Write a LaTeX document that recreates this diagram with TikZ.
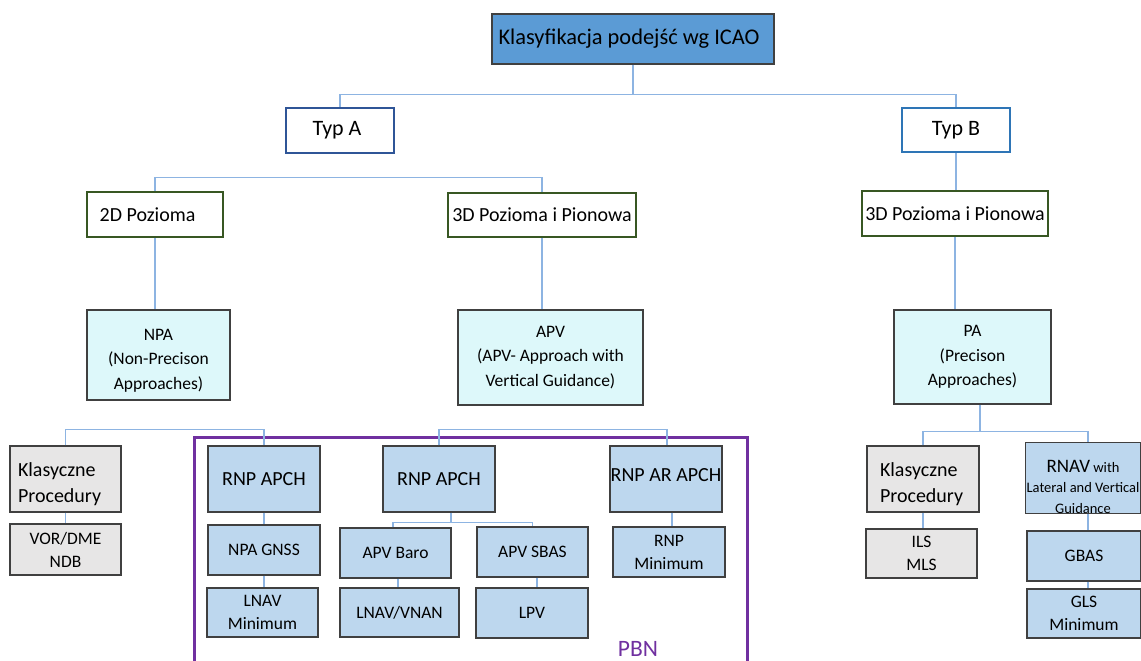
\documentclass[tikz,border=0pt]{standalone}
\usepackage{fontspec}
\setmainfont{Carlito}
\definecolor{topfill}{HTML}{5B9BD5}
\definecolor{cyanfill}{HTML}{DDF8FA}
\definecolor{bluefill}{HTML}{BDD7EE}
\definecolor{greyfill}{HTML}{E7E6E6}
\definecolor{boxline}{HTML}{404040}
\definecolor{typAline}{HTML}{2F5597}
\definecolor{typBline}{HTML}{2E75B6}
\definecolor{greenline}{HTML}{385723}
\definecolor{pbn}{HTML}{7030A0}
\definecolor{connc}{HTML}{8DB4E2}
\begin{document}
\begin{tikzpicture}[x=1pt,y=-1pt,
  box/.style={draw=boxline,line width=1.3pt,inner sep=0pt,align=center,text=black},
  big/.style={font=\fontsize{20}{26}\selectfont},
  small/.style={font=\fontsize{17.5}{23}\selectfont},
  topbox/.style={box,fill=topfill,font=\fontsize{22.4}{26}\selectfont},
  typbox/.style={box,fill=white,font=\fontsize{22}{26}\selectfont},
  lvlbox/.style={box,fill=white,draw=greenline,big},
  cyanbox/.style={box,fill=cyanfill,font=\fontsize{17.5}{24.5}\selectfont},
  bluebox/.style={box,fill=bluefill},
  greybox/.style={box,fill=greyfill},
  conn/.style={draw=connc,line width=1.1pt}
]
\useasboundingbox (0,0) rectangle (1141,661);
\fill[white] (0,0) rectangle (1141,661);

% level 0
\node[topbox,minimum width=282,minimum height=50] (top) at (633,39) {Klasyfikacja podejść wg ICAO\hspace{8pt}};
% level 1
\node[typbox,draw=typAline,line width=2.4pt,minimum width=108,minimum height=45] (typA) at (340,130.5) {Typ A\hspace{6pt}};
\node[typbox,draw=typBline,line width=2pt,minimum width=108,minimum height=44] (typB) at (956,130) {Typ B};
% level 2
\node[lvlbox,line width=2.4pt,minimum width=136,minimum height=45] (d2) at (155,214.5) {2D Pozioma\hspace{15pt}};
\node[lvlbox,line width=1.5pt,minimum width=188,minimum height=44] (d3A) at (542,215) {3D Pozioma i Pionowa};
\node[lvlbox,line width=1.5pt,minimum width=186,minimum height=45] (d3B) at (955,213.5) {3D Pozioma i Pionowa};
% level 3
\node[cyanbox,minimum width=143,minimum height=90] (npa) at (158.5,355) {\rule{0pt}{22pt}NPA\\(Non-Precison\\Approaches)};
\node[cyanbox,minimum width=185,minimum height=95] (apv) at (550.5,357.5) {APV\\(APV- Approach with\\Vertical Guidance)};
\node[cyanbox,minimum width=157,minimum height=94] (pa) at (972.5,357) {PA\\(Precison\\Approaches)};

% PBN frame
\draw[pbn,line width=3pt] (194,675) -- (194,437) -- (747,437) -- (747,675);
\node[text=pbn,font=\fontsize{23.5}{26}\selectfont,inner sep=0pt] (pbnlbl) at (638,649) {PBN};

% level 4
\node[greybox,big,minimum width=111,minimum height=66,text width=95,inner xsep=8pt,align=left] (klasL) at (65.5,479) {\rule{0pt}{24pt}Klasyczne\\Procedury};
\node[greybox,small,minimum width=111,minimum height=51] (vor) at (65.5,549.5) {VOR/DME\\NDB};

\node[bluebox,big,minimum width=112,minimum height=66] (rnp1) at (264,479) {RNP APCH};
\node[bluebox,small,minimum width=112,minimum height=50] (npag) at (264,550) {NPA GNSS};
\node[bluebox,small,minimum width=111,minimum height=49] (lnav) at (262.5,612.5) {LNAV\\Minimum};

\node[bluebox,big,minimum width=112,minimum height=66] (rnp2) at (439,479) {RNP APCH};
\node[bluebox,small,minimum width=111,minimum height=50] (baro) at (395.5,553) {APV Baro};
\node[bluebox,small,minimum width=111,minimum height=50] (sbas) at (532.5,552) {APV SBAS};
\node[bluebox,small,minimum width=119,minimum height=49] (vnan) at (399.5,612.5) {LNAV/VNAN};
\node[bluebox,small,minimum width=112,minimum height=50] (lpv) at (532,613) {LPV};

\node[bluebox,big,minimum width=112,minimum height=66] (rnpar) at (666,479) {\raisebox{7pt}{RNP AR APCH}};
\node[bluebox,small,minimum width=112,minimum height=50] (rnpmin) at (669,552) {RNP\\Minimum};

\node[greybox,big,minimum width=112,minimum height=66,text width=96,inner xsep=8pt,align=left] (klasR) at (923,479) {\rule{0pt}{24pt}\hspace{5pt}Klasyczne\\\hspace{5pt}Procedury};
\node[greybox,small,minimum width=111,minimum height=49] (ils) at (921.5,553.5) {ILS\\MLS};

\node[bluebox,minimum width=115,minimum height=66,font=\fontsize{14.5}{20.5}\selectfont] (rnav) at (1083,478) {\rule{0pt}{30pt}{\fontsize{19}{20}\selectfont RNAV} with\\Lateral and Vertical\\Guidance};
\node[bluebox,small,minimum width=114,minimum height=50] (gbas) at (1084,556) {GBAS};
\node[bluebox,small,minimum width=114,minimum height=49] (gls) at (1084,613.5) {GLS\\Minimum};

% connectors
\coordinate (h1) at ([yshift=12pt]typA.north);
\draw[conn] (top.south) -- (top.south |- h1);
\draw[conn] (typA.north) -- (h1) -| (typB.north);
\draw[conn] (d2.north) -- ([yshift=13pt]d2.north) -| (d3A.north);
\draw[conn] (typB.south) -- (typB.south |- d3B.north);
\draw[conn] (d2.south) -- (d2.south |- npa.north);
\draw[conn] (d3A.south) -- (d3A.south |- apv.north);
\draw[conn] (d3B.south) -- (d3B.south |- pa.north);

\draw[conn] (klasL.north) -- ([yshift=16pt]klasL.north) -| (rnp1.north);
\draw[conn] (rnp2.north) -- ([yshift=16pt]rnp2.north) -| ([xshift=1pt]rnpar.north);
\coordinate (hPA) at ([yshift=14pt]klasR.north);
\draw[conn] ([xshift=7.5pt]pa.south) -- ([xshift=7.5pt]pa.south |- hPA);
\draw[conn] (klasR.north) -- (hPA) -| ([xshift=5pt]rnav.north);

\draw[conn] (klasL.south) -- (klasL.south |- vor.north);
\draw[conn] (rnp1.south) -- (rnp1.south |- npag.north);
\draw[conn] (npag.south) -- (npag.south |- lnav.north);

\coordinate (hR) at ([yshift=5pt,xshift=-2.5pt]baro.north);
\draw[conn] ([xshift=12pt]rnp2.south) -- ([xshift=12pt]rnp2.south |- hR);
\draw[conn] ([xshift=-2.5pt]baro.north) -- (hR) -| (sbas.north);
\draw[conn] ([xshift=2.5pt]baro.south) -- ([xshift=2.5pt]baro.south |- vnan.north);
\draw[conn] ([xshift=4.5pt]sbas.south) -- ([xshift=4.5pt]sbas.south |- lpv.north);
\draw[conn] ([xshift=6pt]rnpar.south) -- ([xshift=6pt]rnpar.south |- rnpmin.north);
\draw[conn] (klasR.south) -- (klasR.south |- ils.north);
\draw[conn] ([xshift=5pt]rnav.south) -- ([xshift=5pt]rnav.south |- gbas.north);
\draw[conn] ([xshift=4pt]gbas.south) -- ([xshift=4pt]gbas.south |- gls.north);
\end{tikzpicture}
\end{document}
